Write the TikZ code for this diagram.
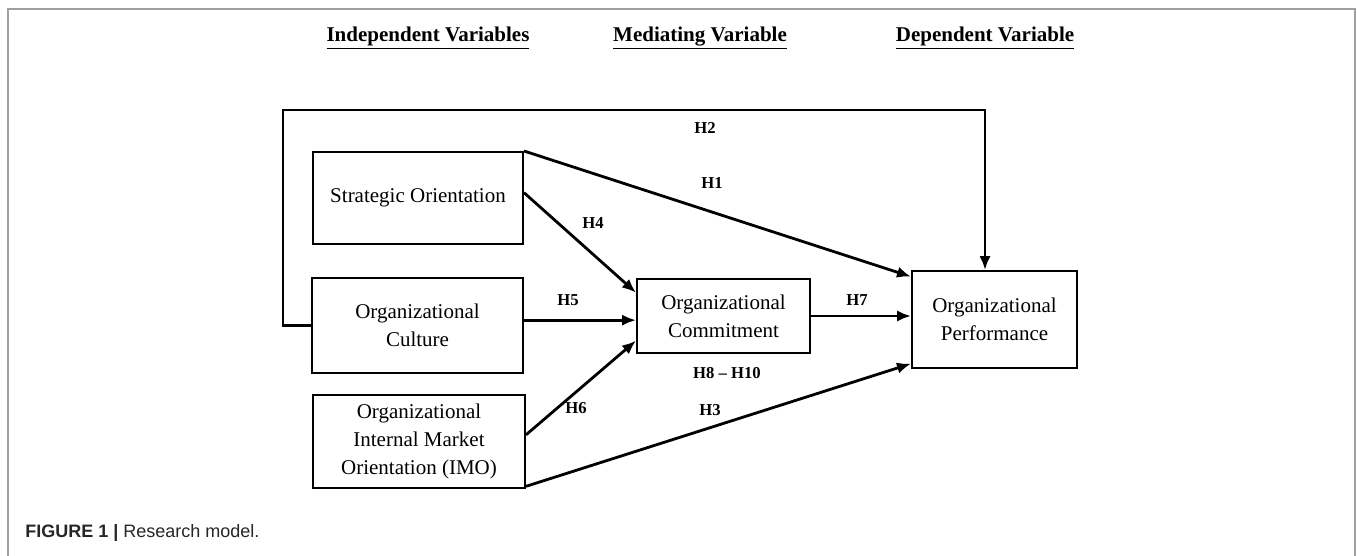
\documentclass[tikz,border=0pt]{standalone}
\usepackage{fontspec}
\setmainfont{Liberation Serif}
\newfontfamily\capfont{Liberation Sans}
\usetikzlibrary{arrows.meta}

\begin{document}
\begin{tikzpicture}[x=0.75pt,y=-0.75pt]
   \tikzset{Box/.style={draw, line width=1.5pt, align=center, inner sep=0pt,
      font=\fontsize{15.75}{21}\selectfont}}
   \tikzset{Hyp/.style={font=\fontsize{12.5}{15}\selectfont\bfseries}}
   \tikzset{Head/.style={anchor=base, font=\fontsize{15.75}{19}\selectfont\bfseries}}
   \tikzset{Link/.style={line width=2.1pt, -{Latex[length=10.5pt,width=8.5pt]}}}
   \useasboundingbox (0,0) rectangle (1357,556);
   % frame of the figure
   \draw[gray!75, line width=1.6pt] (8,556) -- (8,9) -- (1355,9) -- (1355,556);
   % column titles
   \node[Head] (indep) at (428,42) {\underline{Independent Variables}};
   \node[Head] (medi) at (700,42) {\underline{Mediating Variable}};
   \node[Head] (dep) at (985,42) {\underline{Dependent Variable}};
   % constructs
   \node[Box, minimum width=157.5pt, minimum height=69pt] (strat) at (418,198) {Strategic Orientation};
   \node[Box, minimum width=158.25pt, minimum height=71.25pt] (cult) at (417.5,325.5) {Organizational\\Culture};
   \node[Box, minimum width=159pt, minimum height=69.75pt] (imo) at (419,441.5) {Organizational\\Internal Market\\Orientation (IMO)};
   \node[Box, minimum width=129.75pt, minimum height=55.5pt] (comm) at (723.5,316) {Organizational\\Commitment};
   \node[Box, minimum width=123.75pt, minimum height=72.75pt] (perf) at (994.5,319.5) {Organizational\\Performance};
   % paths
   \coordinate (loopL) at (283,110);
   \coordinate (loopR) at (985,110);
   \draw[Link] (cult.west) -| (loopL) -- (loopR) -- (loopR |- perf.north);
   \draw[Link] (strat.north east) -- ([yshift=-5pt]perf.north west);
   \draw[Link] ([yshift=4pt]strat.east) -- ([yshift=-11pt]comm.north west);
   \draw[Link] ([yshift=4pt]cult.east) -- ([yshift=4pt]cult.east -| comm.west);
   \draw[Link] ([yshift=5pt]imo.east) -- ([yshift=10pt]comm.south west);
   \draw[Link] (comm.east) -- (comm.east -| perf.west);
   \draw[Link] ([yshift=2pt]imo.south east) -- ([yshift=4pt]perf.south west);
   % hypotheses
   \node[Hyp] (h2) at (705,128) {H2};
   \node[Hyp] (h1) at (712,183) {H1};
   \node[Hyp] (h4) at (593,223) {H4};
   \node[Hyp] (h5) at (568,300) {H5};
   \node[Hyp] (h7) at (857,300) {H7};
   \node[Hyp] (h810) at (727,373) {H8 -- H10};
   \node[Hyp] (h6) at (576,408) {H6};
   \node[Hyp] (h3) at (710,410) {H3};
   % caption
   \node[anchor=base west, inner sep=0pt, text=black!85, font=\capfont\fontsize{13.5}{16}\selectfont] (cap) at (25,537)
      {\textbf{FIGURE 1 |} Research model.};
\end{tikzpicture}
\end{document}
